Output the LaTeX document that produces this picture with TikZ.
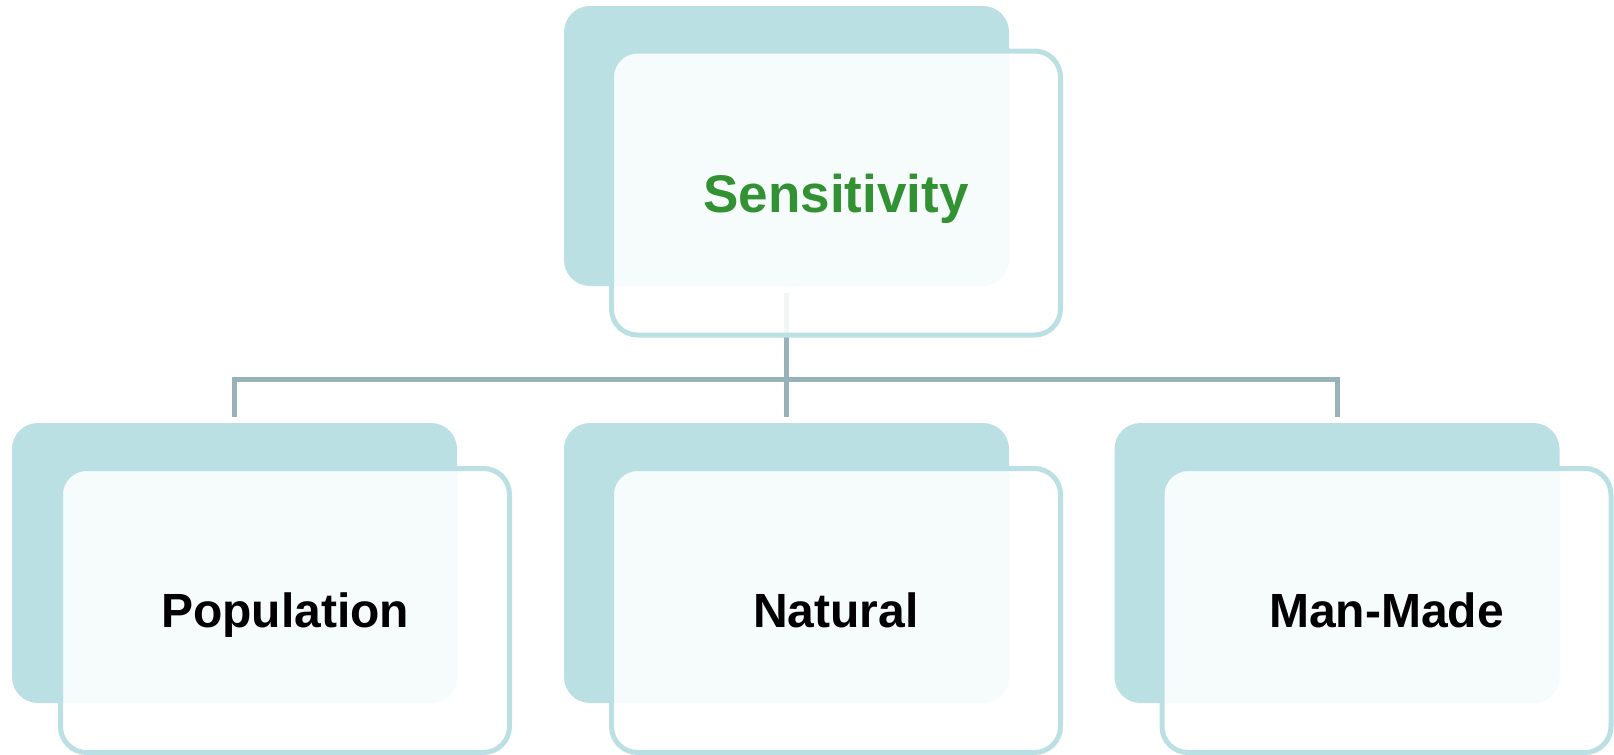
\documentclass[tikz,border=0pt]{standalone}
\usepackage{fontspec}
\setmainfont{Liberation Sans}
\definecolor{backteal}{RGB}{187,224,227}
\definecolor{linkgray}{RGB}{151,178,184}
\definecolor{leafgreen}{RGB}{50,145,50}
\tikzset{
  backbox/.style={rectangle, rounded corners=13pt, fill=backteal,
    minimum width=222.5pt, minimum height=140pt, inner sep=0pt},
  frontbox/.style={rectangle, rounded corners=13pt, draw=backteal, line width=2.5pt,
    fill=white, fill opacity=0.88, text opacity=1,
    minimum width=224.5pt, minimum height=142pt, inner sep=0pt,
    text height=17.2pt, text depth=0pt,
    font=\bfseries\fontsize{24}{28}\selectfont},
  rootlabel/.style={text=leafgreen, text height=19pt,
    font=\bfseries\fontsize{26.5}{30}\selectfont},
  link/.style={draw=linkgray, line width=2.5pt}
}
\begin{document}
\begin{tikzpicture}[x=0.5pt,y=-0.5pt]
\useasboundingbox (0,0) rectangle (1614,755);
% back boxes
\node[backbox] (topB) at (786.5,146) {};
\node[backbox] (popB) at (234.5,563) {};
\node[backbox] (natB) at (786.5,563) {};
\node[backbox] (manB) at (1337,563) {};
% connectors
\coordinate (bus) at (786.5,379);
\draw[link, shorten <=3.5pt, shorten >=3pt] (topB.south) -- (natB.north);
\draw[link, shorten <=3pt, shorten >=3pt] (popB.north) |- (bus) -| (manB.north);
% front boxes
\node[frontbox, rootlabel] (topF) at (836,193) {Sensitivity};
\node[frontbox] (popF) at (285,610.5) {Population};
\node[frontbox] (natF) at (836,610.5) {Natural};
\node[frontbox] (manF) at (1386.5,610.5) {Man-Made};
\end{tikzpicture}
\end{document}
